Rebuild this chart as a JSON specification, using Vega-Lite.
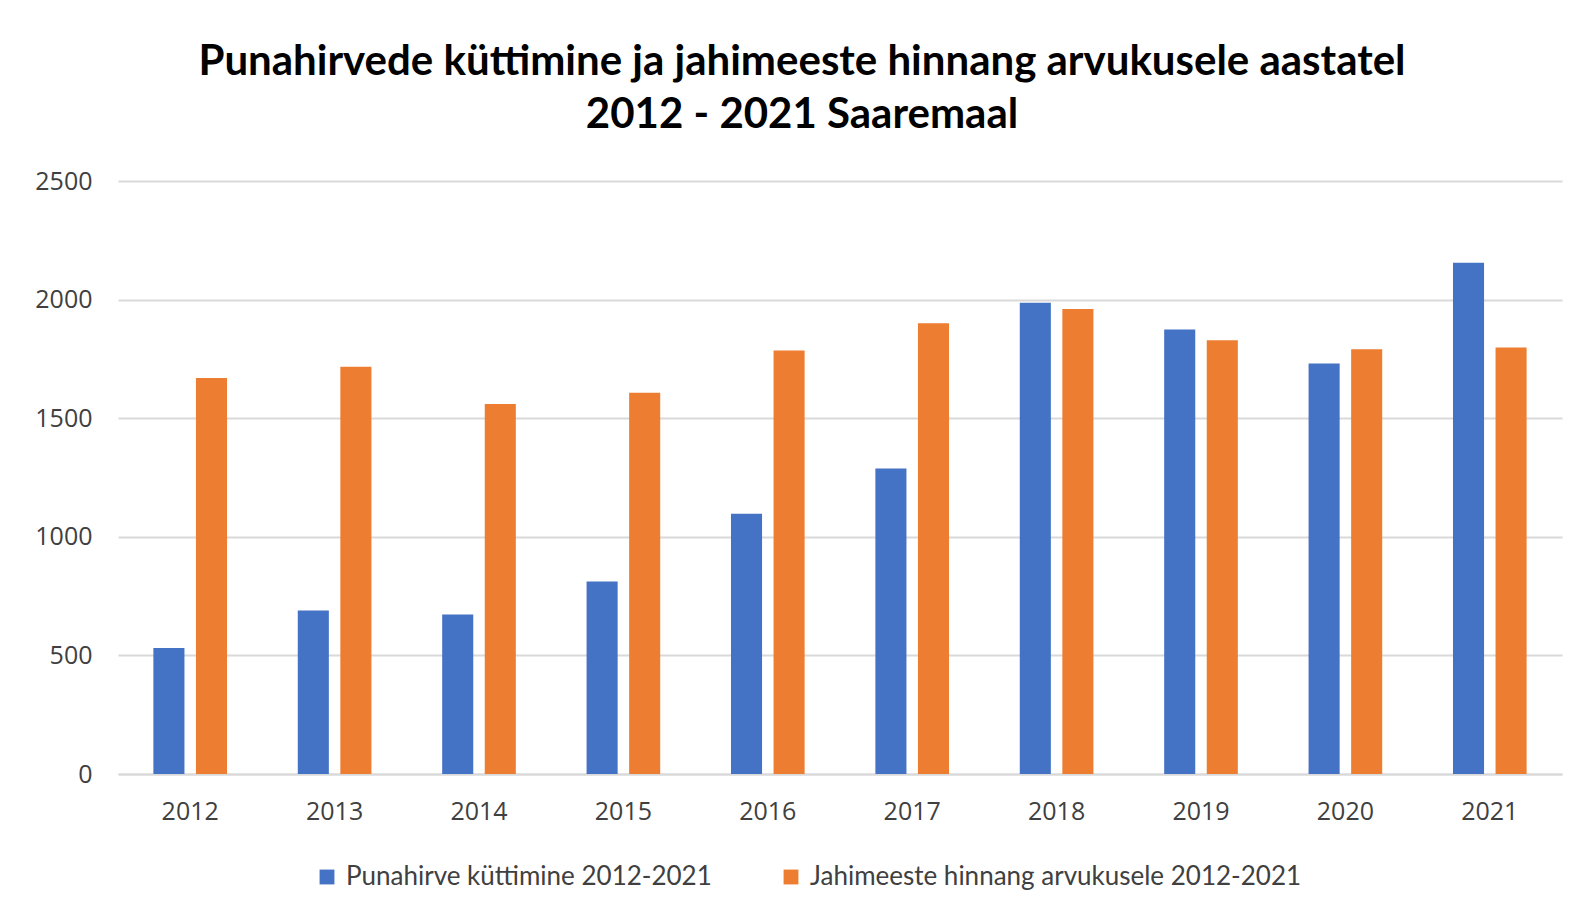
{
  "$schema": "https://vega.github.io/schema/vega-lite/v6.json",
  "autosize": "none",
  "width": 1444,
  "height": 593,
  "padding": {"left": 118, "top": 181, "right": 18, "bottom": 144},
  "background": "white",
  "title": {
    "text": ["Punahirvede küttimine ja jahimeeste hinnang arvukusele aastatel", "2012 - 2021 Saaremaal"],
    "font": "Lato",
    "fontSize": 42,
    "fontWeight": "bold",
    "color": "#000000",
    "anchor": "middle",
    "lineHeight": 53,
    "offset": 32,
    "dx": -38
  },
  "data": {
    "values": [
      {"aasta": "2012", "seeria": "Punahirve küttimine 2012-2021", "v": 531},
      {"aasta": "2012", "seeria": "Jahimeeste hinnang arvukusele 2012-2021", "v": 1670},
      {"aasta": "2013", "seeria": "Punahirve küttimine 2012-2021", "v": 689},
      {"aasta": "2013", "seeria": "Jahimeeste hinnang arvukusele 2012-2021", "v": 1717},
      {"aasta": "2014", "seeria": "Punahirve küttimine 2012-2021", "v": 672},
      {"aasta": "2014", "seeria": "Jahimeeste hinnang arvukusele 2012-2021", "v": 1560},
      {"aasta": "2015", "seeria": "Punahirve küttimine 2012-2021", "v": 812},
      {"aasta": "2015", "seeria": "Jahimeeste hinnang arvukusele 2012-2021", "v": 1607},
      {"aasta": "2016", "seeria": "Punahirve küttimine 2012-2021", "v": 1097},
      {"aasta": "2016", "seeria": "Jahimeeste hinnang arvukusele 2012-2021", "v": 1785},
      {"aasta": "2017", "seeria": "Punahirve küttimine 2012-2021", "v": 1288},
      {"aasta": "2017", "seeria": "Jahimeeste hinnang arvukusele 2012-2021", "v": 1900},
      {"aasta": "2018", "seeria": "Punahirve küttimine 2012-2021", "v": 1987},
      {"aasta": "2018", "seeria": "Jahimeeste hinnang arvukusele 2012-2021", "v": 1960},
      {"aasta": "2019", "seeria": "Punahirve küttimine 2012-2021", "v": 1874},
      {"aasta": "2019", "seeria": "Jahimeeste hinnang arvukusele 2012-2021", "v": 1829},
      {"aasta": "2020", "seeria": "Punahirve küttimine 2012-2021", "v": 1731},
      {"aasta": "2020", "seeria": "Jahimeeste hinnang arvukusele 2012-2021", "v": 1791},
      {"aasta": "2021", "seeria": "Punahirve küttimine 2012-2021", "v": 2155},
      {"aasta": "2021", "seeria": "Jahimeeste hinnang arvukusele 2012-2021", "v": 1798}
    ]
  },
  "mark": {"type": "bar"},
  "encoding": {
    "x": {
      "field": "aasta",
      "type": "nominal",
      "scale": {"paddingInner": 0.49, "paddingOuter": 0.245},
      "axis": {
        "title": null,
        "labelAngle": 0,
        "labelFont": "Open Sans",
        "labelFontSize": 25,
        "labelColor": "#404040",
        "labelPadding": 25,
        "ticks": false,
        "domainColor": "#d9d9d9",
        "domainWidth": 2,
        "grid": false
      }
    },
    "xOffset": {
      "field": "seeria",
      "type": "nominal",
      "sort": ["Punahirve küttimine 2012-2021", "Jahimeeste hinnang arvukusele 2012-2021"],
      "scale": {"paddingInner": 0.27, "paddingOuter": 0}
    },
    "y": {
      "field": "v",
      "type": "quantitative",
      "scale": {"domain": [0, 2500], "nice": false},
      "axis": {
        "title": null,
        "values": [0, 500, 1000, 1500, 2000, 2500],
        "format": "d",
        "labelFont": "Open Sans",
        "labelFontSize": 25,
        "labelColor": "#404040",
        "labelPadding": 26,
        "ticks": false,
        "domain": false,
        "gridColor": "#d9d9d9",
        "gridWidth": 2
      }
    },
    "color": {
      "field": "seeria",
      "type": "nominal",
      "sort": ["Punahirve küttimine 2012-2021", "Jahimeeste hinnang arvukusele 2012-2021"],
      "scale": {
        "domain": ["Punahirve küttimine 2012-2021", "Jahimeeste hinnang arvukusele 2012-2021"],
        "range": ["#4472C4", "#ED7D31"]
      },
      "legend": {
        "title": null,
        "orient": "none",
        "legendX": 196,
        "legendY": 683,
        "direction": "horizontal",
        "symbolType": "square",
        "symbolSize": 220,
        "symbolStrokeWidth": 0,
        "labelFont": "Lato",
        "labelFontSize": 26,
        "labelColor": "#404040",
        "labelLimit": 700,
        "labelOffset": 6,
        "columnPadding": 66
      }
    }
  },
  "config": {"view": {"stroke": null}}
}
